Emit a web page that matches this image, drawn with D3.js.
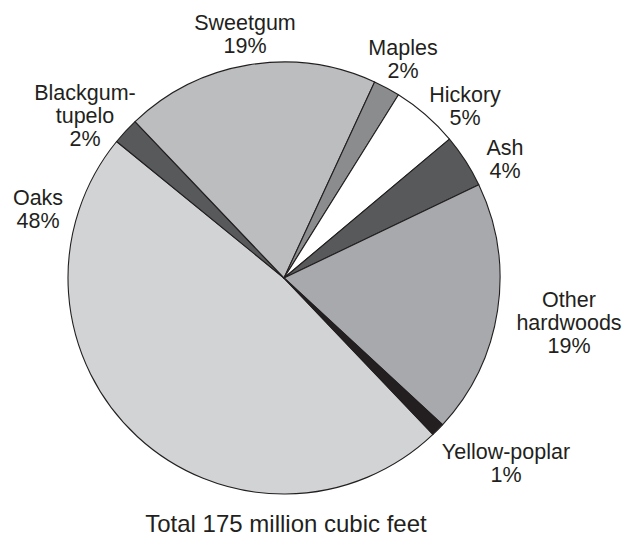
<!DOCTYPE html>
<html>
<head>
<meta charset="utf-8">
<script src="https://cdn.jsdelivr.net/npm/d3@7"></script>
<style>
  html, body { margin: 0; padding: 0; background: #fff; }
  svg { display: block; }
  text { font-family: "Liberation Sans", Arial, Helvetica, sans-serif; fill: #231f20; }
</style>
</head>
<body>
<svg id="chart" width="634" height="540"></svg>
<script>
// Hardwood species shares (percent of total volume), clockwise from Oaks
const species = ["Oaks", "Blackgum-tupelo", "Sweetgum", "Maples", "Hickory", "Ash", "Other hardwoods", "Yellow-poplar"];
const shares  = [48, 2, 19, 2, 5, 4, 19, 1];
const labelLines = [["Oaks"], ["Blackgum-", "tupelo"], ["Sweetgum"], ["Maples"], ["Hickory"], ["Ash"], ["Other", "hardwoods"], ["Yellow-poplar"]];
const fills = ["#d1d3d4", "#58595b", "#bcbdbf", "#8b8c8e", "#ffffff", "#58595b", "#a7a9ac", "#231f20"];
const totalCaption = "Total 175 million cubic feet";

// Label anchor points (centre x, first baseline y)
const labelAt = {
  "Oaks": [38, 205],
  "Blackgum-tupelo": [85, 100],
  "Sweetgum": [245, 30],
  "Maples": [403, 55],
  "Hickory": [465, 102],
  "Ash": [505, 155],
  "Other hardwoods": [569, 307],
  "Yellow-poplar": [506, 459]
};

const svg = d3.select("#chart");
const cx = 284, cy = 278, r = 216;
const lineH = 23;
const deg = Math.PI / 180;

const data = species.map((s, i) => ({ name: s, value: shares[i], fill: fills[i], lines: labelLines[i] }));

const start = 136.4 * deg;
const pie = d3.pie().value(d => d.value).sort(null)
  .startAngle(start).endAngle(start + 2 * Math.PI);
const arc = d3.arc().innerRadius(0).outerRadius(r);

const g = svg.append("g").attr("transform", `translate(${cx},${cy})`);
g.selectAll("path")
  .data(pie(data))
  .join("path")
  .attr("d", arc)
  .attr("fill", d => d.data.fill)
  .attr("stroke", "#231f20")
  .attr("stroke-width", 1.1)
  .attr("stroke-linejoin", "round");

// Species labels with percentages
data.forEach(d => {
  const [x, y] = labelAt[d.name];
  const t = svg.append("text")
    .attr("text-anchor", "middle")
    .attr("font-size", 21.5);
  const lines = d.lines.concat([d.value + "%"]);
  lines.forEach((ln, j) => {
    t.append("tspan").attr("x", x).attr("y", y + j * lineH).text(ln);
  });
});

svg.append("text")
  .attr("x", 286).attr("y", 532)
  .attr("text-anchor", "middle")
  .attr("font-size", 24)
  .text(totalCaption);
</script>
</body>
</html>
